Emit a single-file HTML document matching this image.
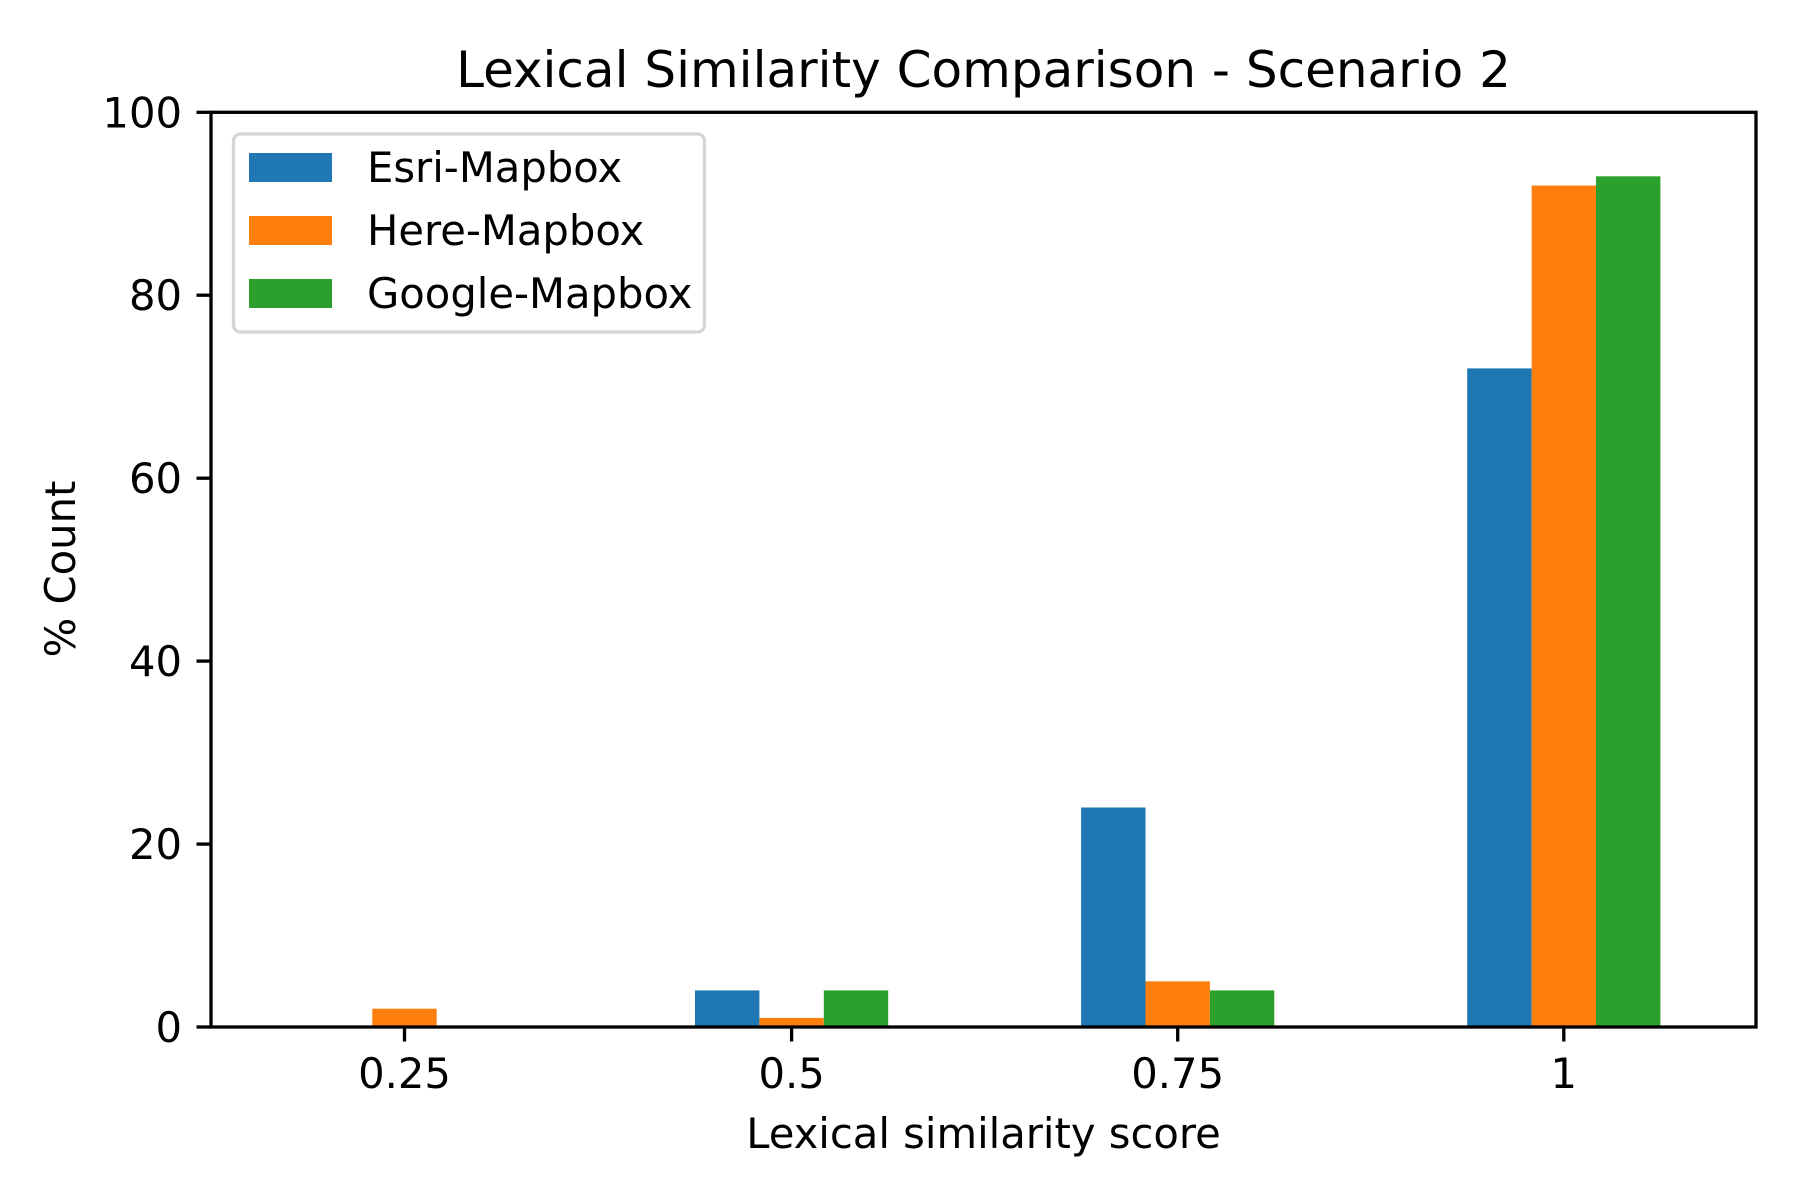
<!DOCTYPE html>
<html><head><meta charset="utf-8"><style>html,body{margin:0;padding:0;background:#fff}svg{display:block}</style></head>
<body>
<svg width="1800" height="1200" viewBox="0 0 1800 1200" xmlns="http://www.w3.org/2000/svg" font-family="'DejaVu Sans','Liberation Sans',sans-serif">
<rect width="1800" height="1200" fill="#fff"/>
<g>
<rect x="372.3" y="1008.7" width="64.4" height="18.3" fill="#ff7f0e"/>
<rect x="695" y="990.4" width="64.4" height="36.6" fill="#1f77b4"/>
<rect x="759.4" y="1017.9" width="64.4" height="9.1" fill="#ff7f0e"/>
<rect x="823.8" y="990.4" width="64.4" height="36.6" fill="#2ca02c"/>
<rect x="1081.1" y="807.5" width="64.4" height="219.5" fill="#1f77b4"/>
<rect x="1145.5" y="981.3" width="64.4" height="45.7" fill="#ff7f0e"/>
<rect x="1209.9" y="990.4" width="64.4" height="36.6" fill="#2ca02c"/>
<rect x="1467.2" y="368.4" width="64.4" height="658.6" fill="#1f77b4"/>
<rect x="1531.6" y="185.5" width="64.4" height="841.5" fill="#ff7f0e"/>
<rect x="1596" y="176.3" width="64.4" height="850.7" fill="#2ca02c"/>
</g>
<rect x="211" y="112.3" width="1545" height="914.7" fill="none" stroke="#000" stroke-width="3.3"/>
<g stroke="#000" stroke-width="3.3">
<line x1="196.5" y1="1027" x2="211" y2="1027"/>
<line x1="196.5" y1="844.1" x2="211" y2="844.1"/>
<line x1="196.5" y1="661.1" x2="211" y2="661.1"/>
<line x1="196.5" y1="478.2" x2="211" y2="478.2"/>
<line x1="196.5" y1="295.2" x2="211" y2="295.2"/>
<line x1="196.5" y1="112.3" x2="211" y2="112.3"/>
<line x1="404.5" y1="1027" x2="404.5" y2="1041.5"/>
<line x1="791.6" y1="1027" x2="791.6" y2="1041.5"/>
<line x1="1177.7" y1="1027" x2="1177.7" y2="1041.5"/>
<line x1="1563.8" y1="1027" x2="1563.8" y2="1041.5"/>
</g>
<g font-size="41.7" fill="#000" text-anchor="end">
<text x="182" y="1042">0</text>
<text x="182" y="859.1">20</text>
<text x="182" y="676.1">40</text>
<text x="182" y="493.2">60</text>
<text x="182" y="310.2">80</text>
<text x="182" y="127.3">100</text>
</g>
<g font-size="41.7" fill="#000" text-anchor="middle">
<text x="404.5" y="1088">0.25</text>
<text x="791.6" y="1088">0.5</text>
<text x="1177.7" y="1088">0.75</text>
<text x="1563.8" y="1088">1</text>
<text x="983.5" y="1148">Lexical similarity score</text>
<text transform="translate(75,569) rotate(-90)">% Count</text>
</g>
<text x="983.5" y="87" font-size="50" text-anchor="middle" fill="#000">Lexical Similarity Comparison - Scenario 2</text>
<rect x="233.5" y="134" width="471" height="198" rx="7" fill="#fff" fill-opacity="0.8" stroke="#d5d5d5" stroke-width="3.3"/>
<rect x="249" y="153" width="83" height="29" fill="#1f77b4"/>
<rect x="249" y="216" width="83" height="29" fill="#ff7f0e"/>
<rect x="249" y="279" width="83" height="29" fill="#2ca02c"/>
<g font-size="41.7" fill="#000">
<text x="367" y="182">Esri-Mapbox</text>
<text x="367" y="245">Here-Mapbox</text>
<text x="367" y="308">Google-Mapbox</text>
</g>
</svg>
</body></html>
